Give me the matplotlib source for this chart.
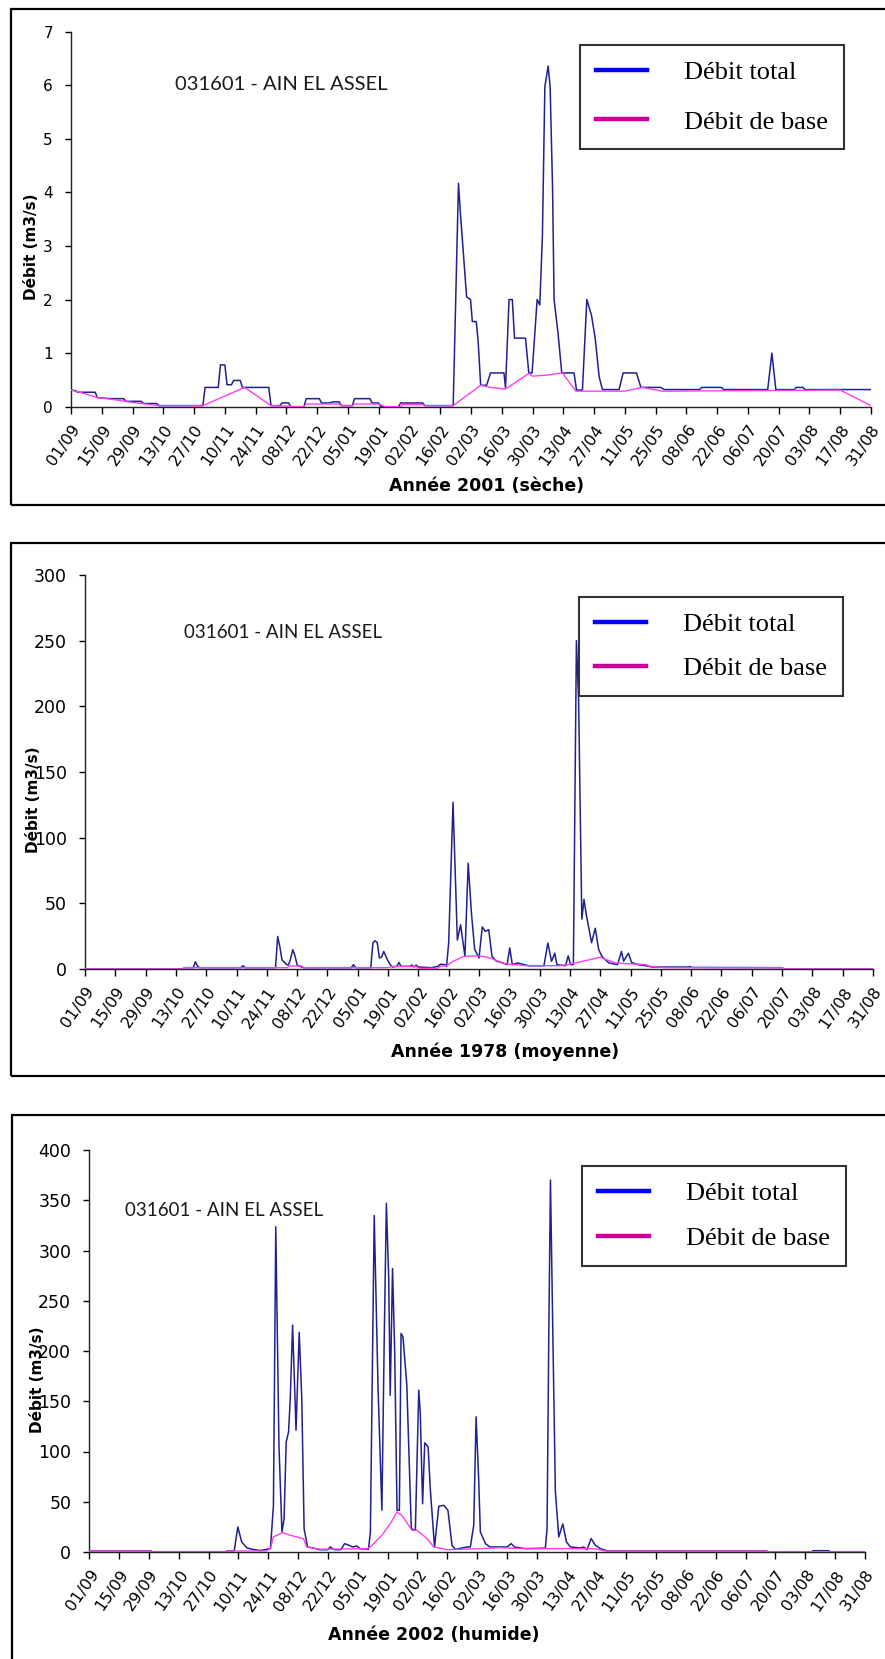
import matplotlib
matplotlib.use("Agg")
import matplotlib.pyplot as plt
from matplotlib.lines import Line2D
from matplotlib.patches import Rectangle

W, H = 885, 1659

tick_labels = ["01/09", "15/09", "29/09", "13/10", "27/10", "10/11", "24/11",
               "08/12", "22/12", "05/01", "19/01", "02/02", "16/02", "02/03",
               "16/03", "30/03", "13/04", "27/04", "11/05", "25/05", "08/06",
               "22/06", "06/07", "20/07", "03/08", "17/08", "31/08"]
tick_days = [14 * i for i in range(len(tick_labels))]

station = "031601 - AIN EL ASSEL"
legend_labels = ["Débit total", "Débit de base"]

# --- 2001 (sèche): days since 01/09, discharge m3/s
days_total_2001 = [0, 2, 3, 11, 12, 18, 24, 25, 32, 33, 39, 40, 60, 61, 67, 68, 70, 71,
                   73, 74, 77, 78, 90, 91, 95, 96, 99, 100, 106, 107, 113, 114, 118, 119,
                   122, 123, 128, 129, 136, 137, 140, 141, 149, 150, 160, 161, 173.9,
                   176.3, 177.2, 180, 181.8, 182.6, 184.4, 185.3, 186.4, 189.1, 190.9,
                   197, 197.7, 199.3, 200.8, 201.8, 206.8, 208.3, 209.8, 212.1, 213.3,
                   214.5, 215.6, 217.1, 218, 219.1, 219.8, 221.6, 223.3, 228.9, 230,
                   232.7, 234.7, 236.8, 238.5, 240.3, 241.8, 249.4, 251.2, 257.3, 259.3,
                   268.4, 269.9, 286, 287, 296, 297, 317, 318.9, 320.7, 329, 330, 333,
                   334, 364]
q_total_2001 = [0.31, 0.30, 0.27, 0.27, 0.17, 0.15, 0.15, 0.10, 0.10, 0.06, 0.06, 0.02,
                0.02, 0.36, 0.36, 0.78, 0.78, 0.41, 0.41, 0.49, 0.49, 0.36, 0.36, 0.02,
                0.02, 0.07, 0.07, 0.0, 0.0, 0.15, 0.15, 0.07, 0.07, 0.09, 0.09, 0.02,
                0.02, 0.15, 0.15, 0.07, 0.07, 0.0, 0.0, 0.07, 0.07, 0.02, 0.02, 4.17,
                3.6, 2.05, 2.0, 1.59, 1.59, 1.19, 0.40, 0.40, 0.63, 0.63, 0.35, 2.0,
                2.0, 1.28, 1.28, 0.63, 0.63, 2.0, 1.9, 3.2, 5.97, 6.36, 5.97, 4.1, 2.0,
                1.37, 0.63, 0.63, 0.31, 0.31, 2.0, 1.71, 1.28, 0.56, 0.32, 0.32, 0.63,
                0.63, 0.36, 0.36, 0.32, 0.32, 0.36, 0.36, 0.32, 0.32, 1.0, 0.32, 0.32,
                0.36, 0.36, 0.32, 0.32]
days_base_2001 = [0, 4, 8, 12, 20, 28, 36, 40, 60, 79, 91, 100, 101, 106, 107, 122, 123,
                  128, 129, 140, 143, 150, 151, 160, 161, 173.9, 186.4, 190.9, 197.7,
                  208.3, 209.8, 216.6, 223.6, 229.7, 251.7, 260, 269, 350, 364]
q_base_2001 = [0.31, 0.27, 0.22, 0.17, 0.13, 0.08, 0.04, 0.02, 0.02, 0.36, 0.02, 0.01,
               0.0, 0.0, 0.05, 0.05, 0.02, 0.02, 0.05, 0.05, 0.0, 0.0, 0.04, 0.04, 0.02,
               0.02, 0.40, 0.36, 0.33, 0.62, 0.57, 0.59, 0.63, 0.29, 0.29, 0.36, 0.29,
               0.31, 0.02]

# --- 1978 (moyenne)
days_total_1978 = [0, 45, 46, 50, 51, 52, 53, 72, 73, 74, 88, 89, 90, 91, 93, 94, 95, 96,
                   97, 98, 100, 101, 123, 124, 125, 132, 133, 134, 135, 136, 137, 138,
                   140, 141, 142, 144, 145, 146, 150, 151, 152, 153, 154, 160, 163, 164,
                   166, 167, 168, 170, 172, 173.5, 175.5, 177, 178.5, 180, 182, 183.5,
                   185, 186.5, 188, 190, 193, 195, 196.2, 197.4, 200, 203, 205, 212,
                   213.8, 215.5, 217, 218, 222, 223.2, 224.3, 225.6, 227, 228, 229.5,
                   230.5, 231.5, 234, 235.7, 237.3, 238.8, 242, 246, 247.8, 248.8, 251,
                   252.5, 255.5, 259, 262, 279, 279.5, 280, 322, 323, 364]
q_total_1978 = [0, 0, 1.0, 1.0, 5.5, 2.0, 1.0, 1.0, 2.5, 1.0, 1.0, 24.8, 17, 7, 3.5, 3,
                8, 14.7, 10, 3, 1.5, 1.0, 1.0, 3.3, 1.0, 1.0, 20, 21.5, 20, 8.4, 9,
                13.4, 6, 3.3, 1.5, 2, 5, 2, 2, 3, 1.5, 3, 1.5, 1.0, 2, 3.5, 3.5, 2, 20,
                127, 22, 33.7, 9.6, 80.6, 42.6, 15, 8.4, 32, 28.6, 30, 9.6, 6, 4.6,
                3.3, 16, 3.3, 4.6, 3.3, 2.5, 2.5, 19.8, 5.8, 12, 3.3, 2.5, 10, 3.3,
                3.3, 250, 205, 38, 53, 42, 20, 31, 14.7, 9.6, 4.6, 3.3, 13.4, 6, 12, 5,
                3.3, 2.5, 1.5, 1.5, 2, 1.2, 1.0, 0, 0]
days_base_1978 = [0, 45, 46, 93, 95, 100, 101, 140, 142, 153, 154, 163, 164, 167, 170,
                  175, 180, 184, 187, 194, 204, 219, 223, 238, 245, 259, 261, 268, 322,
                  323, 364]
q_base_1978 = [0, 0, 1.0, 1.0, 2.3, 2.3, 1.0, 1.0, 2, 2, 0.5, 0.5, 2, 2.5, 5.8, 9.6,
               10, 9.6, 8.4, 4, 2.5, 2.5, 3.3, 8.9, 4.6, 3.3, 2.0, 1.0, 1.0, 0, 0]

# --- 2002 (humide)
days_total_2002 = [0, 29, 29.5, 64, 64.5, 68, 69.7, 71.5, 74, 76.5, 80, 83, 85, 86.4,
                   87.5, 89, 90.4, 91.4, 92.4, 93.5, 94.3, 95.4, 97, 98.5, 99.7, 100.8,
                   102.4, 105, 108, 112, 113, 115, 118, 119.8, 122, 123.5, 125.6, 127,
                   131, 131.9, 133.7, 135.5, 137.3, 138.4, 139.4, 140.5, 141.2, 142.3,
                   143.3, 144.4, 145.5, 146.3, 147.2, 149, 151.1, 153, 154.6, 155.3,
                   156.4, 157.4, 159, 160, 162, 164, 166.3, 168.3, 170.2, 171.8, 177.3,
                   178.8, 180.4, 181.5, 182.7, 183.5, 185.9, 188, 196, 198, 199.5,
                   204.6, 214, 214.8, 215.6, 216.4, 217.6, 218.7, 220.3, 222.2, 223.9,
                   225.8, 230.5, 232, 233.5, 235.5, 237.5, 239.9, 242.2, 243, 318,
                   318.5, 339, 339.5, 347, 347.5, 364]
q_total_2002 = [1.0, 1.0, 0, 0, 1.0, 1.2, 24.9, 10, 4, 2.7, 1.5, 2.5, 3.3, 46, 323.7, 106,
                20, 33, 109.6, 119.5, 152.7, 225.8, 121.2, 218.5, 152.7, 23.2, 5, 4,
                2.3, 2.3, 5, 2.3, 2.3, 8.3, 6.6, 5, 6, 3.3, 2.7, 20, 334.7, 162.7,
                41.5, 212.5, 347, 272, 156, 282, 200, 41.5, 41.5, 217.5, 214, 166,
                23.2, 21.6, 161, 139, 48, 108.6, 104.6, 63, 5, 45.5, 46.5, 41.5, 6.6,
                2.7, 5, 5, 26.6, 134.5, 73, 20, 8.3, 5, 5, 8.3, 5, 3.3, 3.8, 23, 212,
                370, 206, 60, 15, 28, 10, 5, 4, 5, 2.3, 13.3, 6.6, 3.3, 1.7, 1.0, 1.0,
                0, 0, 1.3, 1.3, 0, 0]
days_base_2002 = [0, 29, 29.5, 64, 64.5, 83, 85, 86.4, 90.7, 94.3, 100.5, 102, 108.4,
                  130.3, 131.8, 135.8, 137.3, 141.2, 144.4, 146.7, 151.4, 153.8, 158.5,
                  161.6, 168, 183.5, 193, 200, 214, 237, 242.2, 318, 318.5, 364]
q_base_2002 = [1.0, 1.0, 0, 0, 1.0, 1.0, 3.3, 15, 19.3, 16.6, 13.3, 5, 2.7, 3.3, 5,
               13.3, 16.6, 28, 39.8, 36.5, 21.6, 21.6, 13.3, 5, 2.3, 3.3, 4.3, 3.6,
               3.3, 3.3, 1.0, 1.0, 0, 0]

# panel geometry in pixels: axes box, outer frame, legend corner, text anchors
panels = [
    dict(days_t=days_total_2001, q_t=q_total_2001, days_b=days_base_2001, q_b=q_base_2001,
         ymax=7, ystep=1, xlabel="Année 2001 (sèche)", ytick_size=11, leg_space=0.98,
         axes=(71, 31.7, 871, 406.7), frame=(11, 9.5, 905, 505),
         legend=(580, 45), station=(175, 85, 14.5), xlab=(487, 486), ylab=(31, 247)),
    dict(days_t=days_total_1978, q_t=q_total_1978, days_b=days_base_1978, q_b=q_base_1978,
         ymax=300, ystep=50, xlabel="Année 1978 (moyenne)", ytick_size=12.5, leg_space=0.78,
         axes=(85, 575, 873, 969), frame=(11, 542.5, 905, 1076),
         legend=(579, 597), station=(184, 632, 13.5), xlab=(505, 1052), ylab=(34, 800)),
    dict(days_t=days_total_2002, q_t=q_total_2002, days_b=days_base_2002, q_b=q_base_2002,
         ymax=400, ystep=50, xlabel="Année 2002 (humide)", ytick_size=12.5, leg_space=0.82,
         axes=(89.3, 1150, 865, 1552), frame=(12.4, 1115, 905, 1680),
         legend=(582, 1166), station=(125, 1210, 13.5), xlab=(434, 1635), ylab=(37, 1380)),
]


def fx(x):
    return x / W


def fy(y):
    return 1 - y / H


fig = plt.figure(figsize=(W / 100, H / 100), dpi=100)
fig.patch.set_facecolor("white")

for p in panels:
    x0, y0, x1, y1 = p["frame"]
    fig.add_artist(Rectangle((fx(x0), fy(y1)), (x1 - x0) / W, (y1 - y0) / H,
                             transform=fig.transFigure, fill=False,
                             edgecolor="black", linewidth=1.6, clip_on=False))

    l, t, r, b = p["axes"]
    ax = fig.add_axes([fx(l), fy(b), (r - l) / W, (b - t) / H])
    ax.plot(p["days_t"], p["q_t"], color="#202090", lw=1.1, zorder=3)
    ax.plot(p["days_b"], p["q_b"], color="#ff3cf0", lw=1.0, zorder=4)

    ax.set_xlim(0, 364)
    ax.set_ylim(0, p["ymax"])
    ax.set_yticks(range(0, p["ymax"] + 1, p["ystep"]))
    ax.set_xticks(tick_days)
    ax.set_xticklabels(tick_labels, rotation=55, ha="right", va="top",
                       rotation_mode="anchor", family="DejaVu Sans", fontsize=11.5)
    for lab in ax.get_yticklabels():
        lab.set_family("DejaVu Sans")
        lab.set_fontsize(p["ytick_size"])
    ax.tick_params(axis="y", direction="out", length=4, width=1, pad=9)
    ax.tick_params(axis="x", direction="out", length=5, width=1, pad=6)
    for side in ("top", "right"):
        ax.spines[side].set_visible(False)
    for side in ("left", "bottom"):
        ax.spines[side].set_color("#222222")
        ax.spines[side].set_linewidth(1.0)
    ax.patch.set_alpha(0)

    handles = [Line2D([], [], color="#0000ff", lw=3.2),
               Line2D([], [], color="#cc0099", lw=3.2)]
    lx, ly = p["legend"]
    leg = ax.legend(handles, legend_labels, loc="upper left",
                    bbox_to_anchor=(fx(lx), fy(ly)), bbox_transform=fig.transFigure,
                    borderaxespad=0, fancybox=False, framealpha=1, edgecolor="#333333",
                    prop={"family": "Liberation Serif", "size": 19},
                    handlelength=1.95, handletextpad=1.4, labelspacing=p["leg_space"],
                    borderpad=0.6)
    leg.get_frame().set_linewidth(1.5)

    sx, sy, ssize = p["station"]
    fig.text(fx(sx), fy(sy), station, ha="left", va="center",
             family=["Lato", "DejaVu Sans"], fontsize=ssize, color="#1a1a1a")
    xx, xy = p["xlab"]
    fig.text(fx(xx), fy(xy), p["xlabel"], ha="center", va="center",
             family="DejaVu Sans", fontweight="bold", fontsize=12.5)
    yx, yy = p["ylab"]
    fig.text(fx(yx), fy(yy), "Débit (m3/s)", ha="center", va="center", rotation=90,
             family="DejaVu Sans", fontweight="bold", fontsize=11)

fig.savefig("out.png", dpi=100)
